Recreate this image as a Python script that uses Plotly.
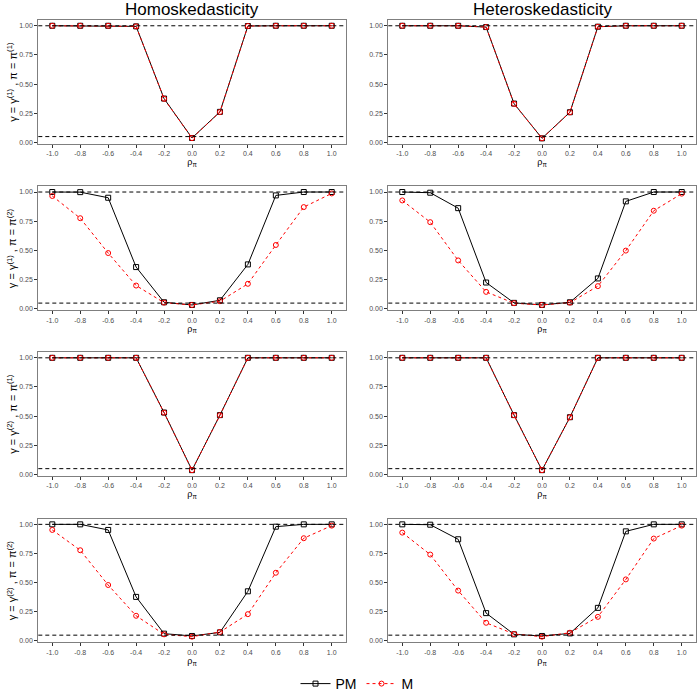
import plotly.graph_objects as go
from plotly.subplots import make_subplots

rho = [-1.0, -0.8, -0.6, -0.4, -0.2, 0.0, 0.2, 0.4, 0.6, 0.8, 1.0]
x_tick_labels = ["-1.0", "-0.8", "-0.6", "-0.4", "-0.2", "0.0", "0.2", "0.4", "0.6", "0.8", "1.0"]
y_ticks = [0.0, 0.25, 0.5, 0.75, 1.0]
y_tick_labels = ["0.00", "0.25", "0.50", "0.75", "1.00"]
ref_levels = [0.05, 1.0]

col_titles = ["Homoskedasticity", "Heteroskedasticity"]
row_labels = [
    "γ = γ<sup>(1)</sup> , π = π<sup>(1)</sup>",
    "γ = γ<sup>(1)</sup> , π = π<sup>(2)</sup>",
    "γ = γ<sup>(2)</sup> , π = π<sup>(1)</sup>",
    "γ = γ<sup>(2)</sup> , π = π<sup>(2)</sup>",
]

# power curves, (row, col) -> values over rho
pm_homo_11 = [1.0, 1.0, 1.0, 0.995, 0.376, 0.038, 0.262, 0.998, 1.0, 1.0, 1.0]
m_homo_11 = [1.0, 1.0, 1.0, 0.995, 0.374, 0.037, 0.260, 0.998, 1.0, 1.0, 1.0]
pm_het_11 = [1.0, 1.0, 1.0, 0.989, 0.333, 0.035, 0.259, 0.992, 1.0, 1.0, 1.0]
m_het_11 = [1.0, 1.0, 1.0, 0.989, 0.331, 0.035, 0.258, 0.992, 1.0, 1.0, 1.0]

pm_homo_12 = [1.0, 0.999, 0.951, 0.358, 0.057, 0.034, 0.074, 0.381, 0.971, 1.0, 1.0]
m_homo_12 = [0.966, 0.776, 0.478, 0.200, 0.054, 0.034, 0.066, 0.215, 0.547, 0.871, 0.988]
pm_het_12 = [1.0, 0.994, 0.862, 0.226, 0.052, 0.034, 0.057, 0.261, 0.920, 1.0, 1.0]
m_het_12 = [0.928, 0.742, 0.415, 0.146, 0.049, 0.034, 0.054, 0.195, 0.499, 0.840, 0.986]

pm_homo_21 = [1.0, 1.0, 1.0, 1.0, 0.531, 0.037, 0.509, 1.0, 1.0, 1.0, 1.0]
m_homo_21 = [1.0, 1.0, 1.0, 1.0, 0.530, 0.037, 0.508, 1.0, 1.0, 1.0, 1.0]
pm_het_21 = [1.0, 1.0, 1.0, 1.0, 0.509, 0.037, 0.491, 1.0, 1.0, 1.0, 1.0]
m_het_21 = [1.0, 1.0, 1.0, 1.0, 0.508, 0.037, 0.490, 1.0, 1.0, 1.0, 1.0]

pm_homo_22 = [1.0, 1.0, 0.952, 0.378, 0.063, 0.043, 0.074, 0.426, 0.980, 1.0, 1.0]
m_homo_22 = [0.952, 0.778, 0.480, 0.216, 0.057, 0.037, 0.077, 0.230, 0.585, 0.881, 0.989]
pm_het_22 = [1.0, 0.997, 0.872, 0.239, 0.057, 0.043, 0.065, 0.284, 0.940, 1.0, 1.0]
m_het_22 = [0.929, 0.741, 0.432, 0.156, 0.060, 0.037, 0.071, 0.207, 0.528, 0.878, 0.989]

pm_series = [[pm_homo_11, pm_het_11], [pm_homo_12, pm_het_12],
             [pm_homo_21, pm_het_21], [pm_homo_22, pm_het_22]]
m_series = [[m_homo_11, m_het_11], [m_homo_12, m_het_12],
            [m_homo_21, m_het_21], [m_homo_22, m_het_22]]

W, H = 700, 700
col_px = [(38.3, 345.7), (388.3, 695.7)]
row_px = [(20, 144), (186.7, 311), (353, 477), (520, 644)]

fig = make_subplots(rows=4, cols=2)

for r in range(4):
    for c in range(2):
        show = r == 0 and c == 0
        fig.add_trace(
            go.Scatter(
                x=rho, y=pm_series[r][c], name="PM", mode="lines+markers",
                line=dict(color="black", width=1),
                marker=dict(symbol="square-open", size=5, color="black", line=dict(width=1)),
                showlegend=show, legendgroup="PM",
            ),
            row=r + 1, col=c + 1,
        )
        fig.add_trace(
            go.Scatter(
                x=rho, y=m_series[r][c], name="M", mode="lines+markers",
                line=dict(color="red", width=1, dash="3px,3px"),
                marker=dict(symbol="circle-open", size=5, color="red", line=dict(width=1)),
                showlegend=show, legendgroup="M",
            ),
            row=r + 1, col=c + 1,
        )
        for lvl in ref_levels:
            fig.add_hline(y=lvl, line=dict(color="black", width=1, dash="4px,3px"),
                          row=r + 1, col=c + 1)
        x0, x1 = col_px[c]
        y0, y1 = row_px[r]
        fig.update_xaxes(
            domain=[x0 / W, x1 / W], range=[-1.1, 1.1],
            tickvals=rho, ticktext=x_tick_labels,
            title=dict(text="ρ<sub>π</sub>", font=dict(size=9, color="black"), standoff=0),
            row=r + 1, col=c + 1,
        )
        fig.update_yaxes(
            domain=[1 - y1 / H, 1 - y0 / H], range=[-0.01, 1.05],
            tickvals=y_ticks, ticktext=y_tick_labels,
            row=r + 1, col=c + 1,
        )

fig.update_xaxes(
    showline=True, mirror=True, linecolor="#7F7F7F", linewidth=1.2,
    ticks="outside", ticklen=3, tickcolor="#333333",
    tickfont=dict(size=7, color="#4D4D4D"), showgrid=False, zeroline=False,
)
fig.update_yaxes(
    showline=True, mirror=True, linecolor="#7F7F7F", linewidth=1.2,
    ticks="outside", ticklen=3, tickcolor="#333333",
    tickfont=dict(size=7, color="#4D4D4D"), showgrid=False, zeroline=False,
)

for c in range(2):
    x0, x1 = col_px[c]
    fig.add_annotation(
        text=col_titles[c], x=(x0 + x1) / 2 / W, y=1 - 10 / H,
        xref="paper", yref="paper", xanchor="center", yanchor="middle", showarrow=False,
        font=dict(size=17, color="black"),
    )

for r in range(4):
    y0, y1 = row_px[r]
    fig.add_annotation(
        text=row_labels[r], x=12 / W, y=1 - (y0 + y1) / 2 / H,
        xref="paper", yref="paper", xanchor="center", yanchor="middle",
        showarrow=False, textangle=-90,
        font=dict(size=11, color="black"),
    )

fig.update_layout(
    width=W, height=H,
    margin=dict(l=0, r=0, t=0, b=0),
    plot_bgcolor="white", paper_bgcolor="white",
    font=dict(family="Liberation Sans, Arial, sans-serif"),
    legend=dict(orientation="h", x=0.5 + 7 / W, xanchor="center", y=1 - 686 / H, yanchor="middle",
                font=dict(size=14, color="black")),
)

fig.write_html("out.html", config={"displayModeBar": False},
               post_script="document.body.style.margin='0';")
